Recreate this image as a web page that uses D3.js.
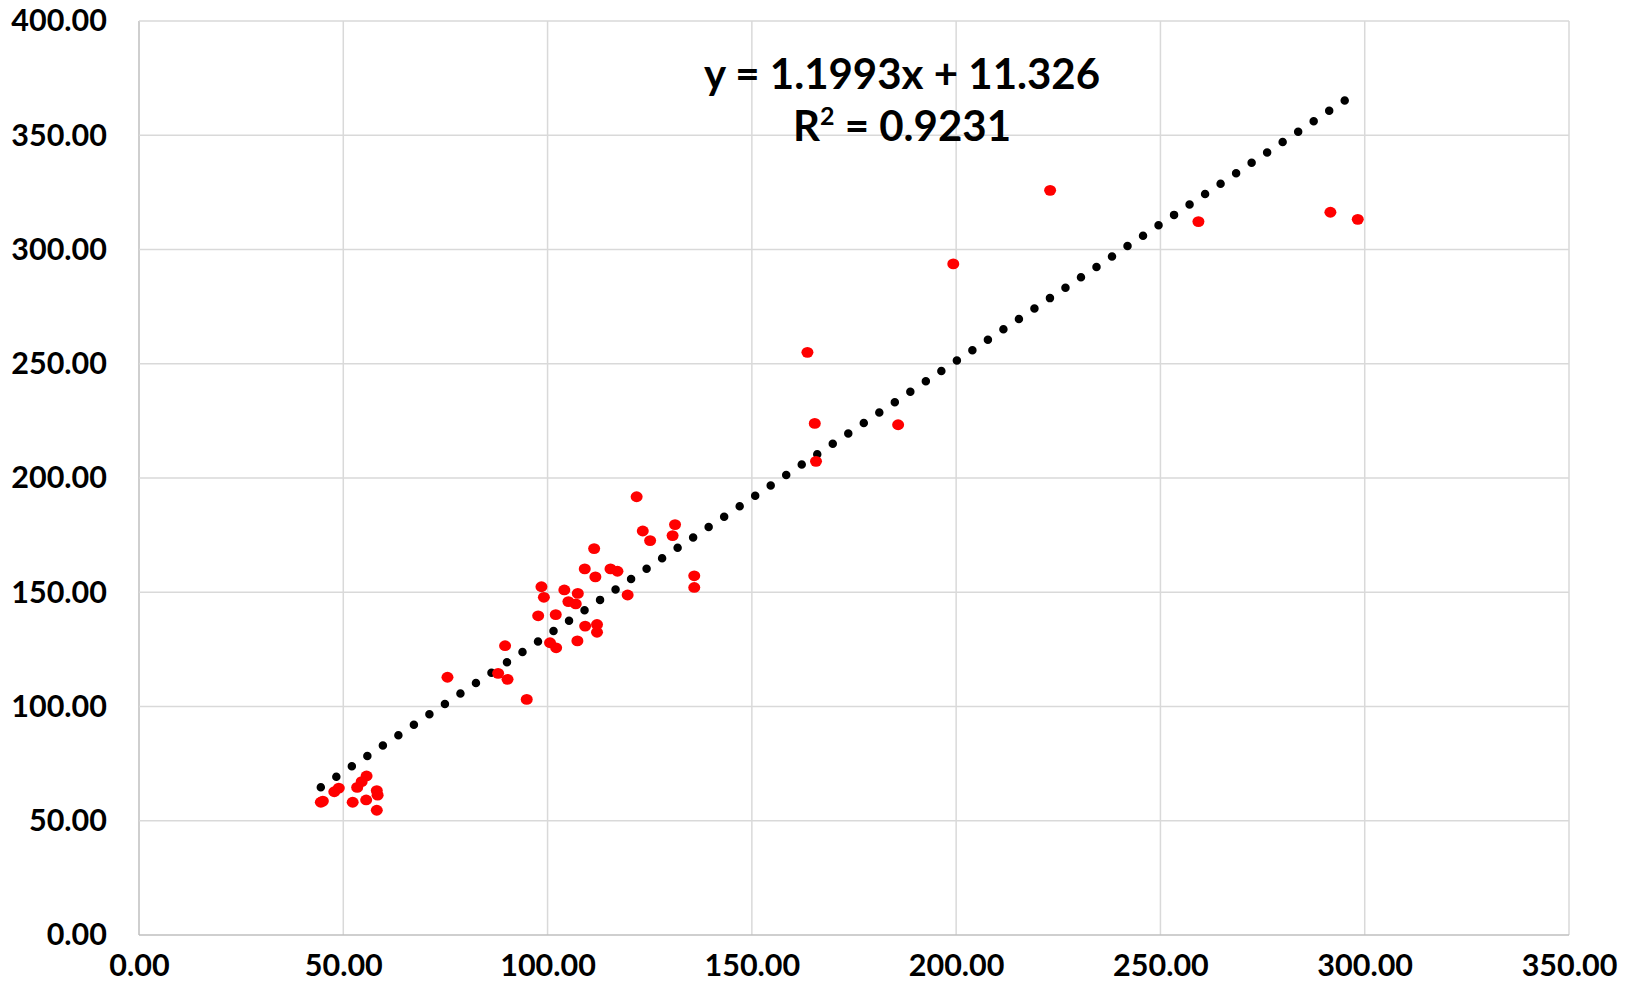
<!DOCTYPE html>
<html>
<head>
<meta charset="utf-8">
<script src="https://cdn.jsdelivr.net/npm/d3@7"></script>
<style>
  body { margin: 0; background: #fff; }
  text { font-family: Lato, "Open Sans", sans-serif; font-weight: bold; fill: #000; }
</style>
</head>
<body>
<script>
var xValues = [44.5, 45.0, 47.8, 48.9, 52.3, 53.4, 54.5, 55.7, 55.6, 58.2, 58.4, 58.2,
  75.5, 87.9, 90.2, 89.6, 94.9, 97.7, 98.5, 99.1, 100.6, 102.1, 102.0, 104.1,
  105.1, 106.9, 107.4, 107.3, 109.2, 109.1, 111.4, 111.7, 112.1, 112.1, 115.4,
  117.1, 119.6, 121.8, 123.3, 125.1, 130.6, 131.2, 135.9, 135.9, 163.6, 165.4,
  165.7, 185.8, 199.3, 223.0, 259.3, 291.6, 298.3];
var yValues = [58.1, 58.6, 62.7, 64.3, 58.1, 64.6, 67.1, 69.6, 59.1, 63.2, 61.2, 54.6,
  112.8, 114.5, 111.9, 126.6, 103.1, 139.7, 152.4, 147.8, 127.9, 125.7, 140.2, 151.0,
  145.9, 144.9, 149.5, 128.7, 135.2, 160.2, 169.1, 156.7, 135.9, 132.5, 160.2,
  159.2, 148.8, 191.8, 176.8, 172.6, 174.8, 179.6, 157.2, 152.1, 255.0, 223.9,
  207.3, 223.3, 293.7, 325.9, 312.2, 316.3, 313.2];

var xTicks = [0, 50, 100, 150, 200, 250, 300, 350];
var yTicks = [0, 50, 100, 150, 200, 250, 300, 350, 400];

var slope = 1.1993;
var intercept = 11.326;
var equationText = 'y = 1.1993x + 11.326';
var rSquaredText = '0.9231';

var W = 1625, H = 993;
var margin = { left: 139, top: 21, right: 56, bottom: 58 };
var plotW = W - margin.left - margin.right;
var plotH = H - margin.top - margin.bottom;

var points = xValues.map(function(d, i) { return { x: d, y: yValues[i] }; });

var svg = d3.select('body')
  .append('svg')
  .attr('width', W)
  .attr('height', H);

var g = svg.append('g').attr('transform', 'translate(' + margin.left + ',' + margin.top + ')');

var x = d3.scaleLinear().domain([0, 350]).range([0, plotW]);
var y = d3.scaleLinear().domain([0, 400]).range([plotH, 0]);

// gridlines
g.append('g').selectAll('line.vgrid')
  .data(xTicks)
  .enter().append('line')
  .attr('x1', function(d) { return x(d); })
  .attr('x2', function(d) { return x(d); })
  .attr('y1', 0)
  .attr('y2', plotH)
  .attr('stroke', function(d) { return d === 0 ? '#bfbfbf' : '#d9d9d9'; })
  .attr('stroke-width', 1.5);

g.append('g').selectAll('line.hgrid')
  .data(yTicks)
  .enter().append('line')
  .attr('x1', 0)
  .attr('x2', plotW)
  .attr('y1', function(d) { return y(d); })
  .attr('y2', function(d) { return y(d); })
  .attr('stroke', function(d) { return d === 0 ? '#bfbfbf' : '#d9d9d9'; })
  .attr('stroke-width', 1.5);

// axes, labels only
var fmt = d3.format('.2f');

var xAxis = g.append('g')
  .attr('transform', 'translate(0,' + plotH + ')')
  .call(d3.axisBottom(x).tickValues(xTicks).tickFormat(fmt).tickSize(0).tickPadding(19));
xAxis.select('.domain').remove();
xAxis.selectAll('text').attr('font-size', 30.5).style('font-family', 'Lato, sans-serif').attr('dy', '0.71em');

var yAxis = g.append('g')
  .call(d3.axisLeft(y).tickValues(yTicks).tickFormat(fmt).tickSize(0).tickPadding(32));
yAxis.select('.domain').remove();
yAxis.selectAll('text').attr('font-size', 30.5).style('font-family', 'Lato, sans-serif');

// linear trendline, dotted
var xMin = d3.min(xValues), xMax = d3.max(xValues);
var line = d3.line()
  .x(function(d) { return x(d); })
  .y(function(d) { return y(slope * d + intercept); });

g.append('path')
  .datum([xMin, xMax])
  .attr('d', line)
  .attr('fill', 'none')
  .attr('stroke', '#000')
  .attr('stroke-width', 8.5)
  .attr('stroke-linecap', 'round')
  .attr('stroke-dasharray', '0 18.68');

// observed points
g.append('g').selectAll('ellipse')
  .data(points)
  .enter().append('ellipse')
  .attr('cx', function(d) { return x(d.x); })
  .attr('cy', function(d) { return y(d.y); })
  .attr('rx', 6)
  .attr('ry', 5.4)
  .attr('fill', '#ff0000');

// equation label
var label = svg.append('text')
  .attr('x', 902)
  .attr('y', 89)
  .attr('text-anchor', 'middle')
  .attr('font-size', 42);
label.append('tspan').text(equationText);

var r2 = svg.append('text')
  .attr('x', 902)
  .attr('y', 141)
  .attr('text-anchor', 'middle')
  .attr('font-size', 42);
r2.append('tspan').text('R');
r2.append('tspan').text('2').attr('font-size', 25).attr('dy', -16);
r2.append('tspan').text(' = ' + rSquaredText).attr('dy', 16);
</script>
</body>
</html>
